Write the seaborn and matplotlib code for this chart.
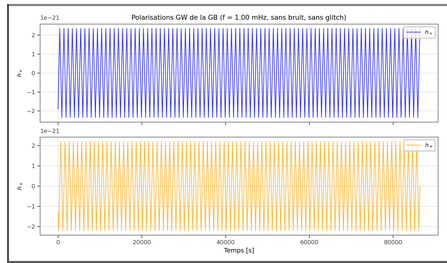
import numpy as np
import pandas as pd
import matplotlib
matplotlib.use("Agg")
import matplotlib.pyplot as plt
import seaborn as sns
from matplotlib.lines import Line2D
from PIL import Image

# Values (units of 1e-21, time in s)
duration_s = 86400
hp_peak = 2.35     # |h+| at every extremum
hx_peak = 2.20     # |hx| at every extremum
hp_first_peak_s = 400   # first h+ maximum
hx_first_trough_s = 150 # first hx minimum
hp_start, hx_start = -1.90, -1.30
hx_end = 0.0
half_period_s = 500

# extremum times and values (the curves look like straight zigzags at this scale)
hp_t = [0] + list(range(hp_first_peak_s, duration_s + 1, half_period_s))
hp_v = [hp_start] + [hp_peak, -hp_peak] * ((len(hp_t) - 1) // 2) + [hp_peak] * ((len(hp_t) - 1) % 2)
hx_t = [0] + list(range(hx_first_trough_s, duration_s + 1, half_period_s)) + [duration_s]
hx_v = [hx_start] + [-hx_peak, hx_peak] * ((len(hx_t) - 2) // 2) + [-hx_peak] * ((len(hx_t) - 2) % 2) + [hx_end]

df_p = pd.DataFrame({"t": hp_t, "h": np.array(hp_v) * 1e-21})
df_x = pd.DataFrame({"t": hx_t, "h": np.array(hx_v) * 1e-21})

plt.rcParams.update({
    "font.size": 4,
    "axes.linewidth": 0.6,
    "axes.edgecolor": "0.55",
    "xtick.major.size": 2,
    "ytick.major.size": 2,
    "xtick.major.width": 0.5,
    "ytick.major.width": 0.5,
    "xtick.color": "0.25",
    "ytick.color": "0.25",
})

fig, (ax1, ax2) = plt.subplots(2, 1, figsize=(4.47, 2.63), dpi=100, sharex=True)
fig.subplots_adjust(left=40 / 447, right=438 / 447, top=1 - 24 / 263, bottom=1 - 235 / 263, hspace=0.155)

sns.lineplot(data=df_p, x="t", y="h", ax=ax1, color="blue", lw=0.5, alpha=0.8, label=r"$h_+$", sort=False)
sns.lineplot(data=df_x, x="t", y="h", ax=ax2, color="orange", lw=0.5, alpha=0.8, label=r"$h_\times$", sort=False)

ax1.set_title("Polarisations GW de la GB (f = 1.00 mHz, sans bruit, sans glitch)", fontsize=4.8, pad=3)
ax1.set_ylabel(r"$h_+$", fontsize=4.2, labelpad=2.5)
ax2.set_ylabel(r"$h_\times$", fontsize=4.2, labelpad=2.5)
ax1.set_xlabel("")
ax2.set_xlabel("Temps [s]", fontsize=4.5, labelpad=1.5)

for ax in (ax1, ax2):
    ax.grid(alpha=0.3, lw=0.5)
    ax.tick_params(labelsize=4.2, pad=1.5)
    ax.yaxis.get_offset_text().set_fontsize(4.2)
    ax.legend(loc="upper right", fontsize=4, handlelength=2.5, framealpha=0.8, borderpad=0.5)

ax1.set_xticks([0, 20000, 40000, 60000, 80000])

# outer frame of the screenshot
fig.add_artist(Line2D([8 / 447, 1], [1 - 5 / 263, 1 - 5 / 263], transform=fig.transFigure, color="0.5", lw=1.5))
fig.add_artist(Line2D([8 / 447, 8 / 447], [1 - 5 / 263, 1 - 262 / 263], transform=fig.transFigure, color="0.1", lw=1))
fig.add_artist(Line2D([8 / 447, 1], [1 - 262 / 263, 1 - 262 / 263], transform=fig.transFigure, color="0.35", lw=1.5))

# render large, then shrink to 447x263 for a smooth look
fig.savefig("big.png", dpi=400)
Image.open("big.png").convert("RGB").resize((447, 263), Image.LANCZOS).save("out.png")
